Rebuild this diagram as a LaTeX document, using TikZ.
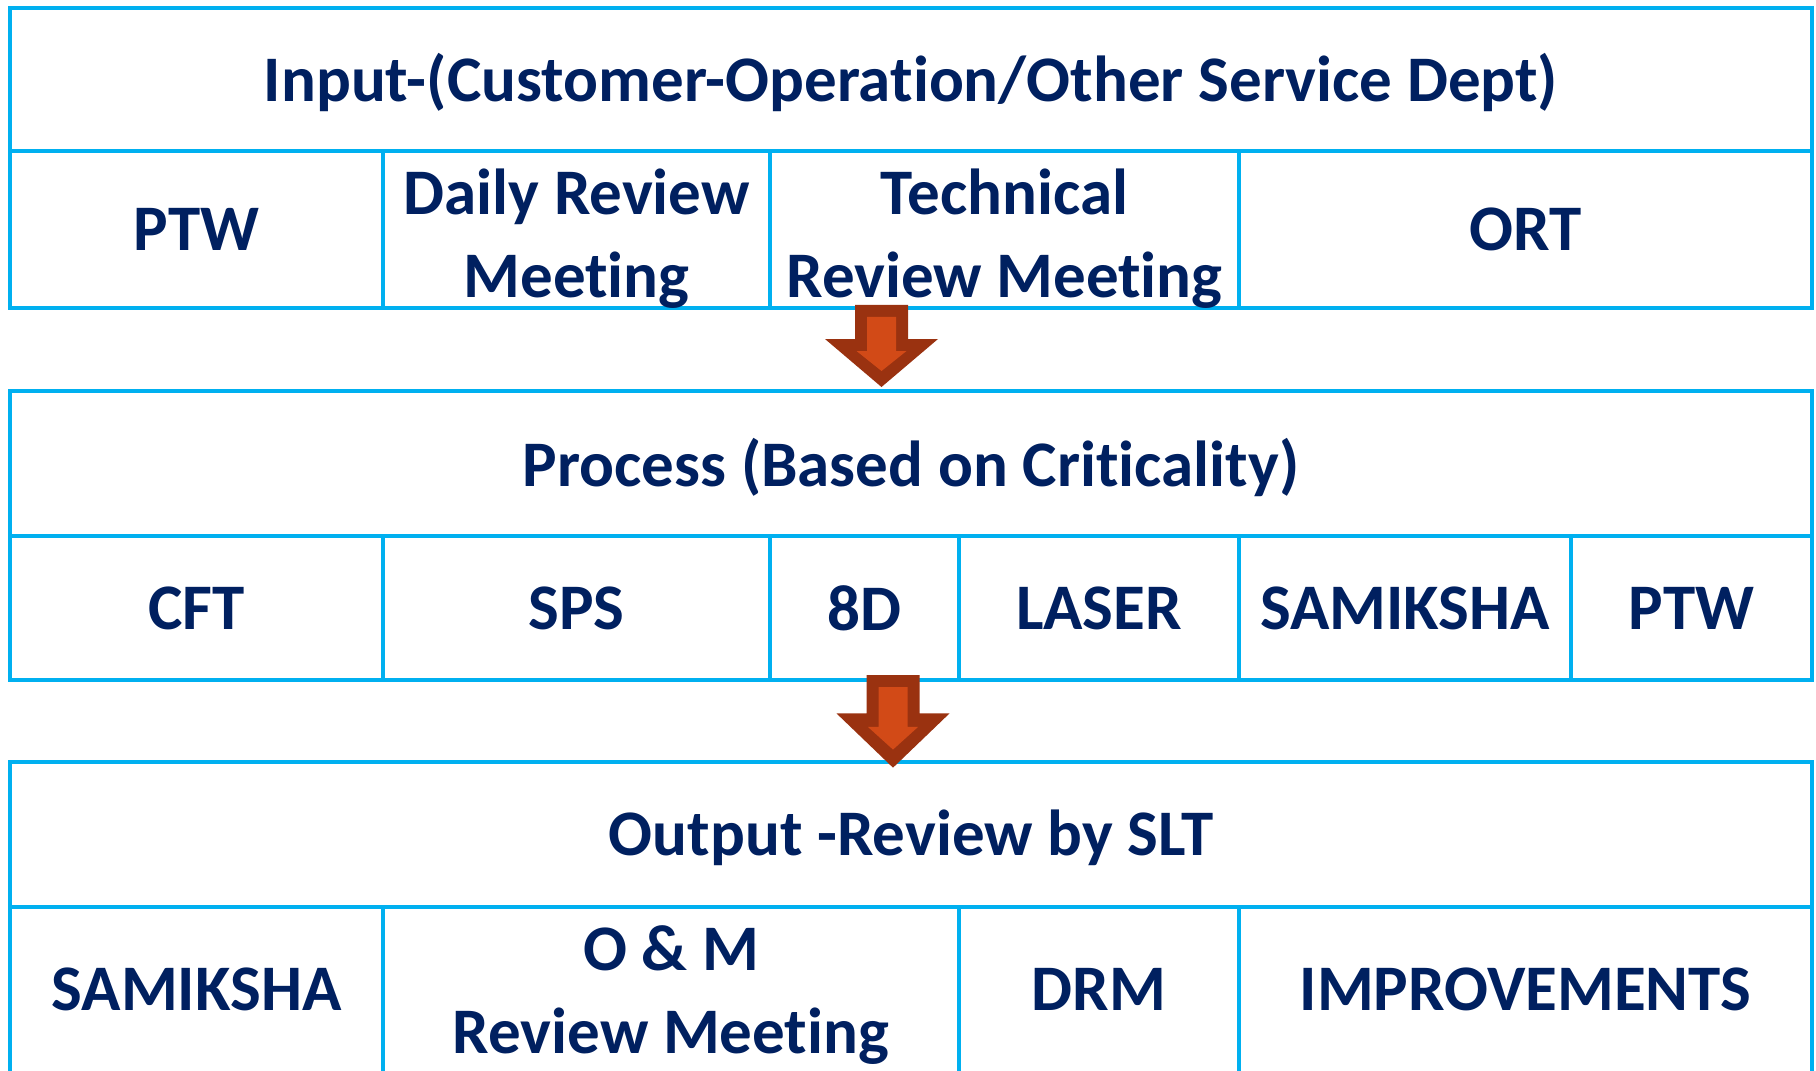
\documentclass[tikz,border=0pt]{standalone}
\usepackage{fontspec}
\setmainfont{Carlito}[Ligatures=NoCommon]
\usepackage{tikz}
\usetikzlibrary{positioning}
\definecolor{cellblue}{HTML}{00B0F0}
\definecolor{textnavy}{HTML}{002060}
\definecolor{arrowdark}{HTML}{9A3210}
\definecolor{arrowfill}{HTML}{D24A17}
\tikzstyle{cell}=[rectangle,draw=cellblue,line width=2pt,inner sep=0pt]
\tikzstyle{celltext}=[inner sep=0pt,align=center,text=textnavy,font=\fontsize{37}{47}\selectfont\bfseries]
\tikzstyle{arrowouter}=[fill=arrowdark]
\tikzstyle{arrowinner}=[fill=arrowfill]

\begin{document}
\begin{tikzpicture}[x=0.02cm, y=-0.02cm]
    \clip (0,0) rectangle (1816,1071);
    \fill[white] (0,0) rectangle (1816,1071);

    % Input block
    \foreach \xa/\xb/\ya/\yb/\dy/\name/\txt in {{10/1812/8/151/3/input/{Input-(Customer-Operation/Other Service Dept)}},
        {10/383/151/308/0/ptwA/PTW}, {383/770/151/308/9/daily/{Daily Review\\Meeting}},
        {770/1239/151/308/9/tech/{Technical\\Review Meeting}}, {1239/1812/151/308/0/ort/ORT}}
    {
        \node[cell, minimum width={(\xb-\xa)*0.02cm}, minimum height={(\yb-\ya)*0.02cm}] (\name) at ({(\xa+\xb)/2},{(\ya+\yb)/2}) {};
        \node[celltext] at ([yshift={-\dy*0.02cm}]\name.center) {\txt};
    }

    % Process block
    \foreach \xa/\xb/\ya/\yb/\dy/\name/\txt in {{10/1812/391/536/4/process/{Process (Based on Criticality)}},
        {10/383/536/680/0/cft/CFT}, {383/770/536/680/0/sps/SPS}, {770/959/536/680/0/eightd/8D},
        {959/1239/536/680/0/laser/LASER}, {1239/1571/536/680/0/samA/SAMIKSHA}, {1571/1812/536/680/0/ptwB/PTW}}
    {
        \node[cell, minimum width={(\xb-\xa)*0.02cm}, minimum height={(\yb-\ya)*0.02cm}] (\name) at ({(\xa+\xb)/2},{(\ya+\yb)/2}) {};
        \node[celltext] at ([yshift={-\dy*0.02cm}]\name.center) {\txt};
    }

    % Output block
    \foreach \xa/\xb/\ya/\yb/\dy/\name/\txt in {{10/1812/762/907/3/output/{Output -Review by SLT}},
        {10/383/907/1075/-2/samB/SAMIKSHA}, {383/959/907/1075/4/om/{O \& M\\Review Meeting}},
        {959/1239/907/1075/-2/drm/DRM}, {1239/1812/907/1075/-2/impr/IMPROVEMENTS}}
    {
        \node[cell, minimum width={(\xb-\xa)*0.02cm}, minimum height={(\yb-\ya)*0.02cm}] (\name) at ({(\xa+\xb)/2},{(\ya+\yb)/2}) {};
        \node[celltext] at ([yshift={-\dy*0.02cm}]\name.center) {\txt};
    }

    % block arrows between the blocks
    \foreach \cx/\ty/\s in {881.5/305/1, 893/675/1.13}{
        \fill[arrowouter] (\cx-26.5,\ty) -- (\cx+26.5,\ty) -- (\cx+26.5,\ty+34*\s) -- (\cx+56.5,\ty+34*\s)
            -- (\cx,\ty+82*\s) -- (\cx-56.5,\ty+34*\s) -- (\cx-26.5,\ty+34*\s) -- cycle;
        \fill[arrowinner] (\cx-14.5,\ty+12) -- (\cx+14.5,\ty+12) -- (\cx+14.5,\ty+46*\s) -- (\cx+25,\ty+46*\s)
            -- (\cx,\ty+66*\s) -- (\cx-25,\ty+46*\s) -- (\cx-14.5,\ty+46*\s) -- cycle;
    }
\end{tikzpicture}
\end{document}
